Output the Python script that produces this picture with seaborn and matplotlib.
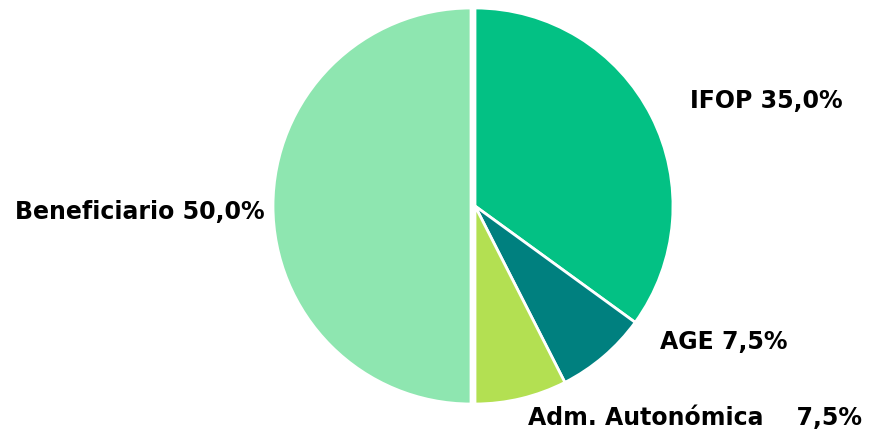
import matplotlib
matplotlib.use("Agg")
import matplotlib.pyplot as plt
import seaborn as sns
import numpy as np

categories = ["IFOP", "AGE", "Adm. Autonómica", "Beneficiario"]
values = [35.0, 7.5, 7.5, 50.0]
labels = ["IFOP 35,0%", "AGE 7,5%", "Adm. Autonómica    7,5%", "Beneficiario 50,0%"]
colors = ["#03C184", "#00807F", "#B3E052", "#8EE6B0"]

sns.set_style("white")
plt.rcParams['font.family'] = ['DejaVu Sans']

fig = plt.figure(figsize=(8.75, 4.35), dpi=100)
ax = fig.add_axes([0, 0, 1, 1])
wedges, _ = ax.pie(values, colors=colors, startangle=90, counterclock=False,
                   explode=[0, 0, 0, 0.02], radius=0.99, center=(0, 0),
                   wedgeprops=dict(edgecolor="white", linewidth=2))
ax.set_xlim(-2.375, 2.0)
ax.set_ylim(-1.14, 1.035)
ax.set_aspect("equal")
ax.axis("off")

label_pos = [(1.075, 0.53, "left"), (0.925, -0.675, "left"),
             (0.265, -1.055, "left"), (-1.05, -0.025, "right")]
for lab, (x, y, ha) in zip(labels, label_pos):
    ax.text(x, y, lab, ha=ha, va="center", fontsize=17, fontweight="bold", color="black")

fig.savefig("out.png", dpi=100, facecolor="white")
